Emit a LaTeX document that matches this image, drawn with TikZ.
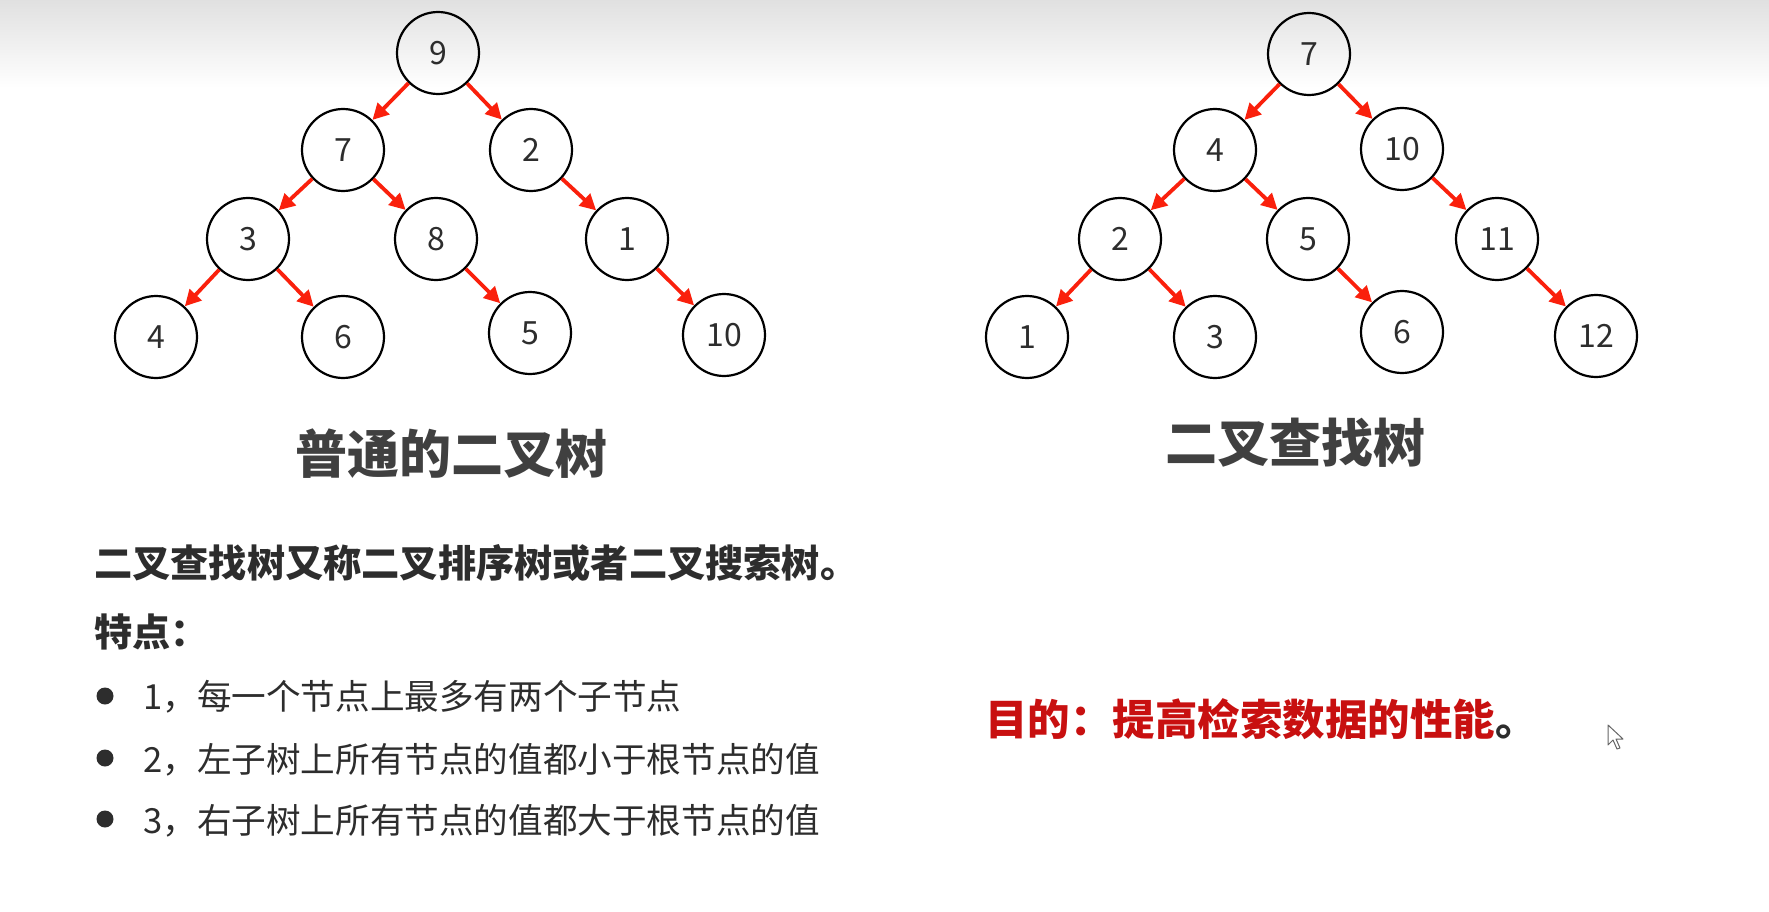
\documentclass[tikz,border=0pt]{standalone}
\usepackage{fontspec}
\setmainfont{Noto Sans CJK SC}
\usetikzlibrary{arrows.meta}
\definecolor{arrowred}{RGB}{250,32,12}
\definecolor{darktext}{RGB}{64,64,64}
\definecolor{listtext}{RGB}{45,45,45}
\definecolor{goalred}{RGB}{200,16,16}
\begin{document}
\begin{tikzpicture}[x=1pt,y=-1pt,
  tnode/.style={circle,draw=black,line width=2.2pt,minimum size=82pt,inner sep=0pt,
    text=listtext,font=\fontsize{32}{32}\selectfont},
  edge/.style={draw=arrowred,line width=3.8pt,-{Triangle[length=16pt,width=16pt]}},
  bigtitle/.style={anchor=base,text=darktext,font=\fontsize{52}{60}\bfseries\selectfont,inner sep=0pt},
  boldline/.style={anchor=base west,text=listtext,font=\fontsize{38.2}{44}\bfseries\selectfont,inner sep=0pt},
  listline/.style={anchor=base west,text=listtext,font=\fontsize{34.6}{42}\selectfont,inner sep=0pt},
  bulletdot/.style={circle,fill=listtext,minimum size=17pt,inner sep=0pt}
]
\useasboundingbox (0,0) rectangle (1769,912);
\fill[white] (0,0) rectangle (1769,912);
\shade[top color=black!12,bottom color=white] (0,0) rectangle (1769,88);

% ---------- left tree ----------
\node[tnode] (L9) at (438,53) {9};
\node[tnode] (L7) at (343,150) {7};
\node[tnode] (L2) at (531,150) {2};
\node[tnode] (L3) at (248,239) {3};
\node[tnode] (L8) at (436,239) {8};
\node[tnode] (L1) at (627,239) {1};
\node[tnode] (L4) at (156,337) {4};
\node[tnode] (L6) at (343,337) {6};
\node[tnode] (L5) at (530,333) {5};
\node[tnode] (L10) at (724,335) {10};
\draw[edge] (L9) -- (L7);
\draw[edge] (L9) -- (L2);
\draw[edge] (L7) -- (L3);
\draw[edge] (L7) -- (L8);
\draw[edge] (L2) -- (L1);
\draw[edge] (L3) -- (L4);
\draw[edge] (L3) -- (L6);
\draw[edge] (L8) -- (L5);
\draw[edge] (L1) -- (L10);

% ---------- right tree ----------
\node[tnode] (R7) at (1309,54) {7};
\node[tnode] (R4) at (1215,150) {4};
\node[tnode] (R10) at (1402,149) {10};
\node[tnode] (R2) at (1120,239) {2};
\node[tnode] (R5) at (1308,239) {5};
\node[tnode] (R11) at (1497,239) {11};
\node[tnode] (R1) at (1027,337) {1};
\node[tnode] (R3) at (1215,337) {3};
\node[tnode] (R6) at (1402,332) {6};
\node[tnode] (R12) at (1596,336) {12};
\draw[edge] (R7) -- (R4);
\draw[edge] (R7) -- (R10);
\draw[edge] (R4) -- (R2);
\draw[edge] (R4) -- (R5);
\draw[edge] (R10) -- (R11);
\draw[edge] (R2) -- (R1);
\draw[edge] (R2) -- (R3);
\draw[edge] (R5) -- (R6);
\draw[edge] (R11) -- (R12);

% ---------- titles ----------
\node[bigtitle] (t1) at (451,473) {普通的二叉树};
\node[bigtitle] (t2) at (1295,462) {二叉查找树};

% ---------- description ----------
\node[boldline] (d1) at (94,577) {二叉查找树又称二叉排序树或者二叉搜索树。};
\node[boldline] (d2) at (94,646) {特点：};
\node[bulletdot] (b1) at (105,696) {};
\node[bulletdot] (b2) at (105,758) {};
\node[bulletdot] (b3) at (105,819) {};
\node[listline] (l1) at (143,709) {1，每一个节点上最多有两个子节点};
\node[listline] (l2) at (143,772) {2，左子树上所有节点的值都小于根节点的值};
\node[listline] (l3) at (143,833) {3，右子树上所有节点的值都大于根节点的值};

% ---------- goal ----------
\node[anchor=base west,inner sep=0pt,font=\fontsize{42.5}{48}\bfseries\selectfont] (goal) at (985,735)
  {\textcolor{goalred}{目的：提高检索数据的性能}\textcolor{listtext}{。}};

% ---------- mouse cursor ----------
\draw[black!60,fill=white,line width=1pt,line join=round]
  (1608,725) -- (1608,745) -- (1613,740) -- (1617,749) -- (1620,748) -- (1616,739) -- (1623,739) -- cycle;
\end{tikzpicture}
\end{document}
